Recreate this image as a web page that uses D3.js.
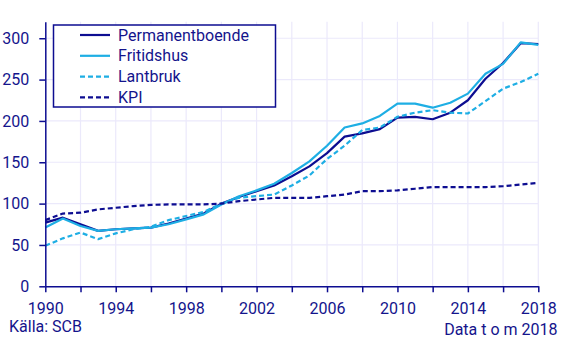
<!DOCTYPE html>
<html>
<head>
<meta charset="utf-8">
<script src="https://cdn.jsdelivr.net/npm/d3@7"></script>
<style>
  html, body { margin: 0; padding: 0; background: #fff; }
  svg { display: block; font-family: Roboto, "Liberation Sans", sans-serif; }
</style>
</head>
<body>
<svg id="chart" width="565" height="341"></svg>
<script>
const years = d3.range(1990, 2019);
const permanentboende = [77, 83, 75, 67, 69, 70, 71, 76, 82, 88, 100, 108, 115, 122, 133, 145, 161, 181, 185, 190, 204, 205, 202, 210, 225, 251, 270, 294, 293];
const fritidshus      = [71, 82, 73, 67, 69, 70, 71, 75, 81, 87, 99, 109, 116, 124, 137, 151, 170, 192, 197, 206, 221, 221, 216, 222, 233, 257, 269, 295, 292];
const lantbruk        = [49, 58, 65, 57, 64, 69, 72, 80, 85, 90, 100, 107, 109, 111, 122, 134, 154, 170, 189, 192, 205, 210, 213, 210, 209, 224, 239, 247, 257];
const kpi             = [80, 88, 89, 93, 95, 97, 98.5, 99, 99, 99, 100, 103, 105, 107, 107, 107, 109, 111, 115, 115, 116, 118, 120, 120, 120, 120, 121, 123, 125];
const seriesNames = ["Permanentboende", "Fritidshus", "Lantbruk", "KPI"];
const yTicks = [0, 50, 100, 150, 200, 250, 300];
const xTicks = d3.range(1990, 2019, 2);
const xLabels = [1990, 1994, 1998, 2002, 2006, 2010, 2014, 2018];
const sourceText = "Källa: SCB";
const noteText = "Data t o m 2018";

const seriesValues = [permanentboende, fritidshus, lantbruk, kpi];
const darkBlue = "#0d0d91";
const lightBlue = "#1eaee4";
const textColor = "#14148c";
const styles = [
  {color: darkBlue, dash: null},
  {color: lightBlue, dash: null},
  {color: lightBlue, dash: "5,3"},
  {color: darkBlue, dash: "5,3"}
];

const svg = d3.select("#chart");
const x = d3.scaleLinear().domain([1990, 2018]).range([45.3, 538.3]);
const y = d3.scaleLinear().domain([0, 320]).range([286.3, 21.7]);

// grid
const grid = svg.append("g");
grid.selectAll("line.h").data(yTicks.filter(d => d > 0)).join("line")
  .attr("x1", x(1990)).attr("x2", x(2018))
  .attr("y1", d => y(d)).attr("y2", d => y(d))
  .attr("stroke", "#ebe9fb").attr("stroke-width", 1.2);
grid.selectAll("line.v").data(xTicks.filter(d => d > 1990)).join("line")
  .attr("x1", d => x(d)).attr("x2", d => x(d))
  .attr("y1", y(320)).attr("y2", y(0))
  .attr("stroke", "#ebe9fb").attr("stroke-width", 1.2);

// lines
const line = d3.line().x((d, i) => x(years[i])).y(d => y(d));
seriesValues.forEach((vals, i) => {
  svg.append("path").datum(vals)
    .attr("d", line)
    .attr("fill", "none")
    .attr("stroke", styles[i].color)
    .attr("stroke-width", 2.2)
    .attr("stroke-dasharray", styles[i].dash)
    .attr("stroke-linejoin", "round");
});

// axes
const yAxis = d3.axisLeft(y).tickValues(yTicks).tickSize(6).tickSizeOuter(0).tickPadding(10);
const yG = svg.append("g").attr("transform", `translate(${x(1990)},0)`).call(yAxis);
const xAxis = d3.axisBottom(x).tickValues(xTicks).tickSize(6).tickSizeOuter(0).tickPadding(10.5)
  .tickFormat(d => xLabels.includes(d) ? String(d) : "");
const xG = svg.append("g").attr("transform", `translate(0,${y(0)})`).call(xAxis);
[yG, xG].forEach(g => {
  g.select(".domain").attr("stroke", darkBlue).attr("stroke-width", 1.5);
  g.selectAll(".tick line").attr("stroke", darkBlue).attr("stroke-width", 1.5);
  g.selectAll("text").attr("fill", textColor).attr("font-size", 16)
    .attr("font-family", "Roboto, sans-serif");
});

// legend
const lg = svg.append("g");
lg.append("rect").attr("x", 53.5).attr("y", 25).attr("width", 222).attr("height", 82)
  .attr("fill", "#fff").attr("stroke", darkBlue).attr("stroke-width", 1.5);
seriesNames.forEach((name, i) => {
  const cy = 35 + i * 20.8;
  lg.append("line").attr("x1", 80).attr("x2", 110).attr("y1", cy).attr("y2", cy)
    .attr("stroke", styles[i].color).attr("stroke-width", 2.2)
    .attr("stroke-dasharray", styles[i].dash);
  lg.append("text").attr("x", 118).attr("y", cy).attr("dy", "0.35em")
    .attr("fill", textColor).attr("font-size", 16).text(name);
});

svg.append("text").attr("x", 9).attr("y", 331.5).attr("fill", textColor)
  .attr("font-size", 16).text(sourceText);
svg.append("text").attr("x", 557.5).attr("y", 335).attr("text-anchor", "end")
  .attr("fill", textColor).attr("font-size", 16).text(noteText);
</script>
</body>
</html>
